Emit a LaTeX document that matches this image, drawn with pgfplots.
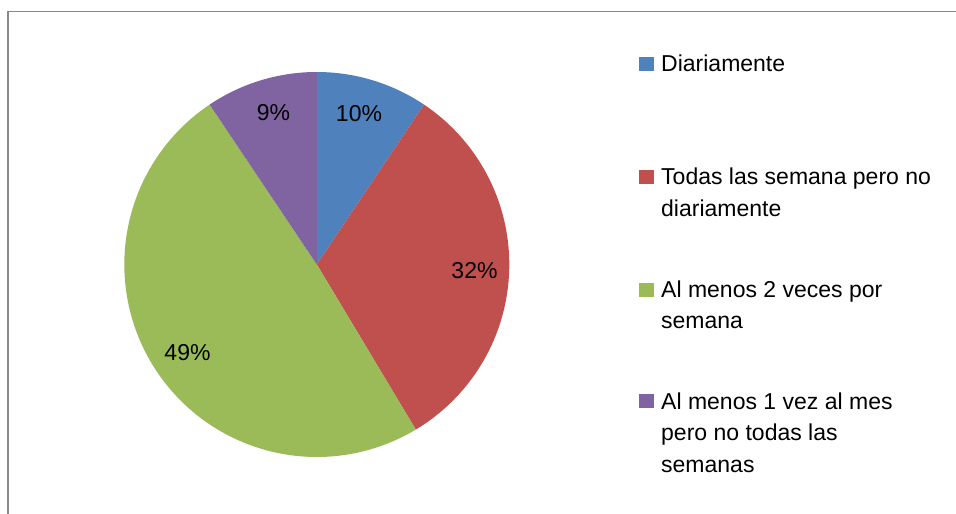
\documentclass[border=0pt]{standalone}
\usepackage{pgfplots}
\pgfplotsset{compat=1.18}
\usepackage{fontspec}
\setmainfont{Liberation Sans}
\definecolor{cA}{HTML}{4F81BD}
\definecolor{cB}{HTML}{C0504D}
\definecolor{cC}{HTML}{9BBB59}
\definecolor{cD}{HTML}{8064A2}
\definecolor{framec}{HTML}{888888}
\tikzset{txt/.style={font=\fontsize{23bp}{28bp}\selectfont, text=black}}
% slice values (percent)
\def\vA{9.4}\def\vB{32.0}\def\vC{49.2}\def\vD{9.4}
\pgfmathsetmacro\aA{90}
\pgfmathsetmacro\aB{\aA-3.6*\vA}
\pgfmathsetmacro\aC{\aB-3.6*\vB}
\pgfmathsetmacro\aD{\aC-3.6*\vC}
\pgfmathsetmacro\aE{\aD-3.6*\vD}
\def\cx{316.8}\def\cy{249.5}\def\pr{192.5}
\begin{document}
\begin{tikzpicture}
\path[use as bounding box] (0,0) rectangle (956bp,514bp);
\begin{axis}[at={(0,0)}, anchor=south west, scale only axis,
  width=956bp, height=514bp, xmin=0, xmax=956, ymin=0, ymax=514,
  hide axis, clip=false]
\addplot[fill=cA, draw=none, domain=\aB:\aA, samples=80, variable=\t] ({\cx+\pr*cos(\t)},{\cy+\pr*sin(\t)}) -- (axis cs:\cx,\cy) -- cycle;
\addplot[fill=cB, draw=none, domain=\aC:\aB, samples=120, variable=\t] ({\cx+\pr*cos(\t)},{\cy+\pr*sin(\t)}) -- (axis cs:\cx,\cy) -- cycle;
\addplot[fill=cC, draw=none, domain=\aD:\aC, samples=160, variable=\t] ({\cx+\pr*cos(\t)},{\cy+\pr*sin(\t)}) -- (axis cs:\cx,\cy) -- cycle;
\addplot[fill=cD, draw=none, domain=\aE:\aD, samples=80, variable=\t] ({\cx+\pr*cos(\t)},{\cy+\pr*sin(\t)}) -- (axis cs:\cx,\cy) -- cycle;
% slice labels
\node[txt, anchor=base] at (axis cs:359,392) {10\%};
\node[txt, anchor=base] at (axis cs:273.5,393.5) {9\%};
\node[txt, anchor=base] at (axis cs:474.5,235.7) {32\%};
\node[txt, anchor=base] at (axis cs:187.5,153) {49\%};
% legend
\fill[cA] (axis cs:639,443) rectangle (axis cs:654,457);
\fill[cB] (axis cs:639,330) rectangle (axis cs:654,344);
\fill[cC] (axis cs:639,217.3) rectangle (axis cs:654,230.7);
\fill[cD] (axis cs:639,106) rectangle (axis cs:654,120);
\node[txt, anchor=base west, inner sep=0pt] at (axis cs:661,442.3) {Diariamente};
\node[txt, anchor=base west, inner sep=0pt] at (axis cs:661,329) {Todas las semana pero no};
\node[txt, anchor=base west, inner sep=0pt] at (axis cs:661,297.3) {diariamente};
\node[txt, anchor=base west, inner sep=0pt] at (axis cs:661,216.7) {Al menos 2 veces por};
\node[txt, anchor=base west, inner sep=0pt] at (axis cs:661,185) {semana};
\node[txt, anchor=base west, inner sep=0pt] at (axis cs:661,104) {Al menos 1 vez al mes};
\node[txt, anchor=base west, inner sep=0pt] at (axis cs:661,73) {pero no todas las};
\node[txt, anchor=base west, inner sep=0pt] at (axis cs:661,41) {semanas};
% chart frame
\draw[framec, line width=1.6bp] (axis cs:8,-10) -- (axis cs:8,502.5) -- (axis cs:970,502.5);
\end{axis}
\end{tikzpicture}
\end{document}
